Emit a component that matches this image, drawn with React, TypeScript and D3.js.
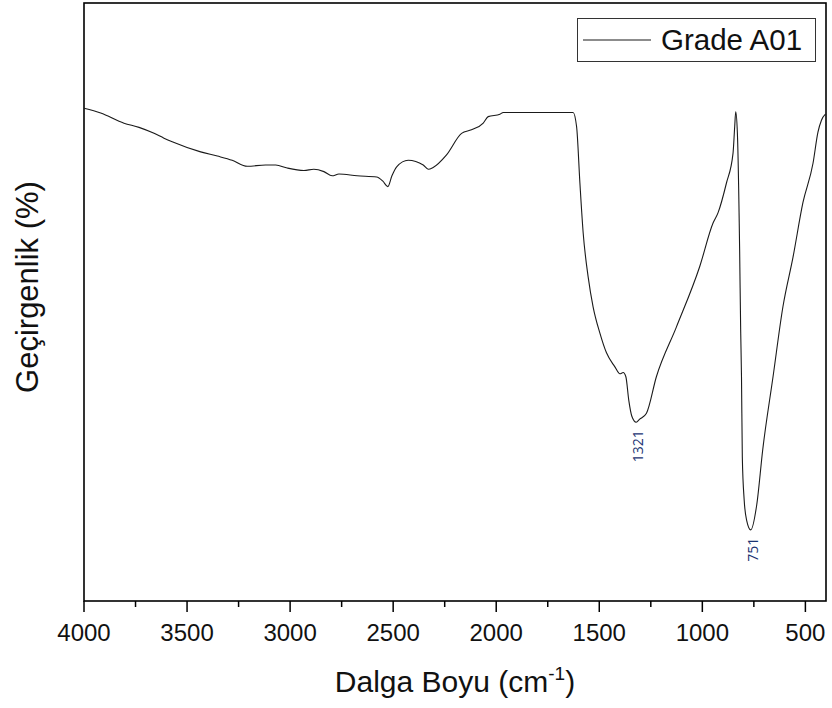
import React, { useEffect, useRef } from "react";
import * as d3 from "d3";

const wavenumbers = [
  4000, 3919, 3806, 3733, 3660, 3612, 3572, 3434, 3353, 3281, 3208, 3119, 3070, 3014,
  2933, 2885, 2836, 2796, 2763, 2675, 2580, 2550, 2526, 2506, 2483, 2427, 2354, 2330,
  2306, 2241, 2168, 2120, 2063, 2039, 1982, 1966, 1789, 1627, 1610, 1594, 1578, 1554,
  1530, 1497, 1465, 1425, 1400, 1384, 1371, 1357, 1342, 1321, 1304, 1271, 1223, 1126,
  1013, 948, 924, 883, 851, 843, 838, 830, 819, 814, 810, 806, 797, 785, 765, 736, 707,
  657, 609, 560, 512, 463, 439, 422, 406, 401,
];
const transmittance = [
  82.4, 81.6, 79.9, 79.2, 78.2, 77.4, 76.8, 75.1, 74.4, 73.7, 72.7, 72.9, 72.9, 72.4,
  72.0, 72.2, 71.8, 71.1, 71.4, 71.1, 70.9, 70.2, 69.3, 71.1, 72.6, 73.7, 72.9, 72.2,
  72.5, 74.6, 78.2, 78.8, 79.9, 81.0, 81.4, 81.7, 81.7, 81.7, 79.3, 69.9, 61.5, 54.2,
  49.2, 44.8, 41.5, 39.2, 38.0, 38.2, 37.5, 33.6, 30.9, 29.9, 30.4, 31.4, 37.5, 45.8,
  55.9, 63.2, 64.9, 69.9, 74.9, 79.3, 81.8, 78.3, 58.7, 45.3, 37.5, 24.1, 16.9, 13.5,
  11.9, 16.1, 25.3, 37.5, 49.2, 57.5, 66.6, 73.2, 78.4, 80.4, 81.3, 81.4,
];
const xTicks = [4000, 3500, 3000, 2500, 2000, 1500, 1000, 500];
const xMinorTicks = [3750, 3250, 2750, 2250, 1750, 1250, 750];
const peakLabels = [
  { x: 1321, y: 29.9, text: "1321" },
  { x: 765, y: 11.9, text: "751" },
];
const seriesName = "Grade A01";

export default function App() {
  const ref = useRef<SVGSVGElement>(null);
  useEffect(() => {
    const svg = d3.select(ref.current);
    svg.selectAll("*").remove();
    const left = 84, right = 826, top = 3, bottom = 601;
    const x = d3.scaleLinear().domain([4000, 400]).range([left, right]);
    const y = d3.scaleLinear().domain([0, 100]).range([bottom, top]);
    const font = "'Liberation Sans', Arial, sans-serif";

    svg.append("rect").attr("x", left).attr("y", top).attr("width", right - left)
      .attr("height", bottom - top).attr("fill", "none").attr("stroke", "#000").attr("stroke-width", 1.6);

    const g = svg.append("g");
    xTicks.forEach((t) => {
      g.append("line").attr("x1", x(t)).attr("x2", x(t)).attr("y1", bottom).attr("y2", bottom + 11)
        .attr("stroke", "#000").attr("stroke-width", 1.5);
      g.append("text").attr("x", x(t)).attr("y", 641).attr("text-anchor", "middle")
        .attr("font-family", font).attr("font-size", 24).attr("fill", "#111").text(String(t));
    });
    xMinorTicks.forEach((t) => {
      g.append("line").attr("x1", x(t)).attr("x2", x(t)).attr("y1", bottom).attr("y2", bottom + 6)
        .attr("stroke", "#000").attr("stroke-width", 1.5);
    });

    const data = wavenumbers.map((w, i) => [w, transmittance[i]] as [number, number]);
    const line = d3.line<[number, number]>().x((d) => x(d[0])).y((d) => y(d[1])).curve(d3.curveMonotoneX);
    svg.append("path").attr("d", line(data)).attr("fill", "none").attr("stroke", "#1a1a1a").attr("stroke-width", 1.1);

    peakLabels.forEach((p) => {
      const px = x(p.x) + 1.5, py = y(p.y) + 8;
      svg.append("text").attr("transform", `translate(${px},${py}) rotate(-90)`)
        .attr("text-anchor", "end").attr("dominant-baseline", "central")
        .attr("font-family", "'Open Sans', sans-serif").attr("font-size", 14).attr("fill", "#1b3372").text(p.text);
    });

    const xt = svg.append("text").attr("x", 455).attr("y", 692).attr("text-anchor", "middle")
      .attr("font-family", font).attr("font-size", 30).attr("fill", "#111");
    xt.append("tspan").text("Dalga Boyu (cm");
    xt.append("tspan").attr("font-size", 19).attr("dy", -12).text("-1");
    xt.append("tspan").attr("dy", 12).text(")");

    svg.append("text").attr("transform", `translate(38,287) rotate(-90)`).attr("text-anchor", "middle")
      .attr("font-family", font).attr("font-size", 31).attr("fill", "#111").text("Geçirgenlik (%)");

    svg.append("rect").attr("x", 577.5).attr("y", 18.5).attr("width", 238).attr("height", 43)
      .attr("fill", "#fff").attr("stroke", "#333").attr("stroke-width", 1);
    svg.append("line").attr("x1", 583).attr("x2", 651).attr("y1", 40).attr("y2", 40)
      .attr("stroke", "#1a1a1a").attr("stroke-width", 1.1);
    svg.append("text").attr("x", 661).attr("y", 50).attr("font-family", font).attr("font-size", 29.5)
      .attr("fill", "#111").text(seriesName);
  }, []);
  return (
    <svg ref={ref} width={832} height={708}
      style={{ position: "absolute", left: 0, top: 0, background: "#fff" }} />
  );
}
